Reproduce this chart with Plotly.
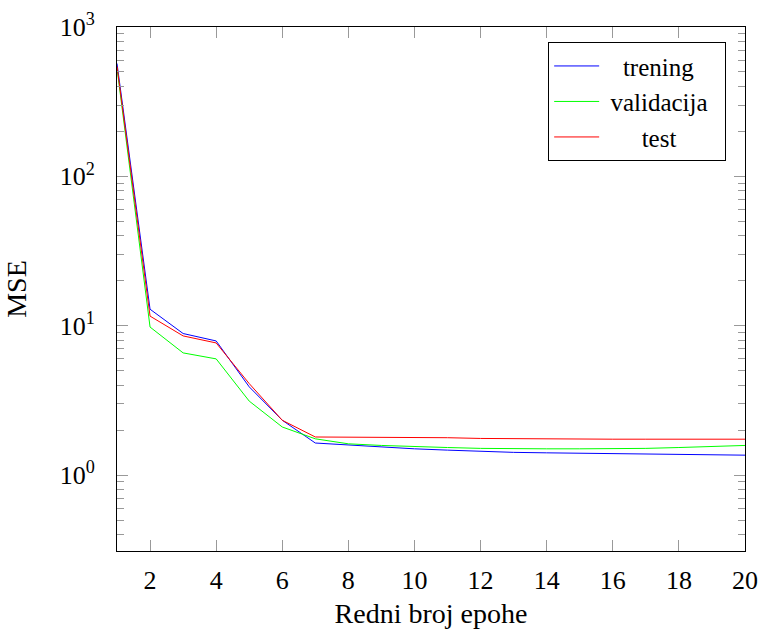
import plotly.graph_objects as go

epochs = list(range(1, 21))
trening = [570, 12.9, 8.87, 7.91, 3.9, 2.33, 1.64, 1.59, 1.54, 1.50, 1.47, 1.44, 1.42, 1.41, 1.40, 1.39, 1.38, 1.37, 1.365, 1.36]
validacija = [530, 9.8, 6.58, 6.0, 3.13, 2.1, 1.75, 1.62, 1.58, 1.55, 1.53, 1.51, 1.50, 1.50, 1.50, 1.50, 1.51, 1.53, 1.55, 1.58]
test = [545, 11.6, 8.55, 7.67, 4.1, 2.33, 1.80, 1.80, 1.80, 1.79, 1.78, 1.76, 1.75, 1.74, 1.74, 1.74, 1.74, 1.74, 1.74, 1.74]

NB = "\u00a0"
legend_labels = [NB * 3 + "trening" + NB * 4, NB + "validacija" + NB * 2, NB * 6 + "test" + NB * 7]

x_ticks = [2, 4, 6, 8, 10, 12, 14, 16, 18, 20]
y_ticks = [1, 10, 100, 1000]
y_ticktext = ["10<sup>0</sup>", "10<sup>1</sup>", "10<sup>2</sup>", "10<sup>3</sup>"]

FONT = "Liberation Serif"

fig = go.Figure()
for vals, label, color in zip([trening, validacija, test], legend_labels, ["#0000ff", "#00ff00", "#ff0000"]):
    fig.add_trace(go.Scatter(x=epochs, y=vals, mode="lines", name=label, line=dict(color=color, width=1)))

minor_vals = [m * 10 ** d for d in range(-1, 3) for m in range(2, 10)]

fig.update_layout(
    width=764, height=629,
    margin=dict(l=117, r=19, t=27, b=78),
    paper_bgcolor="white", plot_bgcolor="white",
    font=dict(family=FONT, size=26, color="black"),
    showlegend=True,
    legend=dict(
        x=0.970, y=0.971, xanchor="right", yanchor="top",
        bordercolor="black", borderwidth=1, bgcolor="white",
        font=dict(family=FONT, size=25),
        tracegroupgap=0, itemwidth=45,
    ),
    xaxis=dict(
        range=[1, 20], tickmode="array", tickvals=x_ticks,
        ticks="inside", ticklen=11, tickcolor="#999999",
        showline=True, linecolor="black", linewidth=1, mirror="ticks",
        showgrid=False, zeroline=False, automargin=False,
        title=dict(text="Redni broj epohe", standoff=10, font=dict(size=28)),
        ticklabelstandoff=6,
    ),
    yaxis=dict(
        type="log", range=[-0.508, 3],
        tickmode="array", tickvals=y_ticks, ticktext=y_ticktext,
        ticks="inside", ticklen=11, tickcolor="#999999",
        minor=dict(ticks="inside", ticklen=7, tickcolor="#999999", tickmode="array", tickvals=minor_vals),
        showline=True, linecolor="black", linewidth=1, mirror="ticks",
        showgrid=False, zeroline=False, automargin=False,
        title=dict(text="MSE", standoff=24, font=dict(size=28)),
        ticklabelstandoff=16,
    ),
)

fig.write_html(
    "out.html",
    config={"displayModeBar": False},
    post_script="document.body.style.margin='0';document.body.style.overflow='hidden';",
)
